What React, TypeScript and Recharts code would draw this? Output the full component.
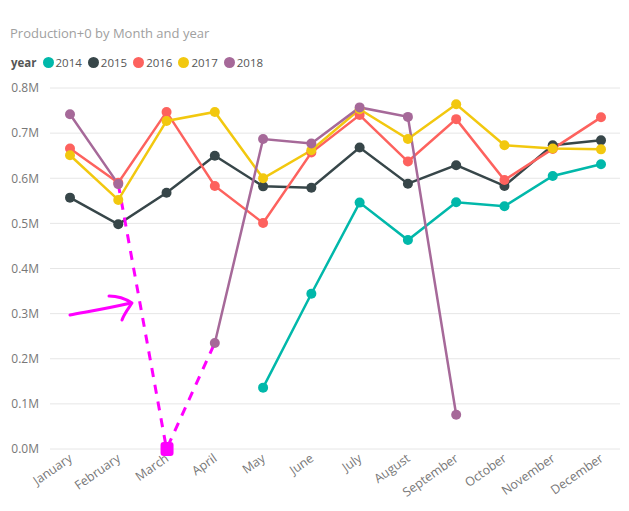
import { LineChart, Line, XAxis, YAxis, CartesianGrid } from 'recharts'

const months = ['January', 'February', 'March', 'April', 'May', 'June', 'July', 'August', 'September', 'October', 'November', 'December']
const years = ['2014', '2015', '2016', '2017', '2018']
const COLORS = ['#01B8AA', '#374649', '#FD625E', '#F2C80F', '#A66999']

const y2014 = [null, null, null, null, 136000, 344000, 546000, 463000, 547000, 538000, 605000, 631000]
const y2015 = [557000, 498000, 568000, 650000, 582000, 579000, 668000, 588000, 629000, 583000, 673000, 684000]
const y2016 = [666000, 590000, 747000, 583000, 501000, 657000, 740000, 637000, 731000, 596000, 665000, 735000]
const y2017 = [651000, 552000, 727000, 747000, 600000, 662000, 753000, 687000, 764000, 673000, 666000, 664000]
const y2018 = [742000, 587000, null, 235000, 687000, 677000, 757000, 736000, 76000, null, null, null]
// hand-drawn note on the picture: the missing March value of 2018 taken as zero
const note2018 = [null, 587000, 0, 235000, null, null, null, null, null, null, null, null]

const yTicks = [0, 100000, 200000, 300000, 400000, 500000, 600000, 700000, 800000]

const series = [y2014, y2015, y2016, y2017, y2018]
const data = months.map((month, i) => {
  const row: Record<string, string | number | null> = { month, note: note2018[i] }
  years.forEach((yr, k) => { row[yr] = series[k][i] })
  return row
})

const FONT = '"Open Sans", "Noto Sans", sans-serif'
const MAGENTA = '#FF00FF'

function MonthTick({ x, y, payload }: any) {
  return (
    <g transform={`translate(${x - 2},${y - 4})`}>
      <text x={0} y={0} dy="0.71em" textAnchor="end" transform="rotate(-35)" fill="#777" fontSize={12.5} fontFamily={FONT}>
        {payload.value}
      </text>
    </g>
  )
}

function NoteDot({ cx, cy, index }: any) {
  if (index !== 2 || cx == null) return <g key={index} />
  return <rect key={index} x={cx - 6} y={cy - 7} width={13} height={14} rx={3} fill={MAGENTA} />
}

export default function App() {
  return (
    <div style={{ position: 'absolute', left: 0, top: 0, width: 629, height: 511, background: '#fff', fontFamily: FONT }}>
      <div style={{ position: 'absolute', left: 10, top: 24, fontSize: 13, color: '#a0a0a0', whiteSpace: 'nowrap' }}>
        Production+0 by Month and year
      </div>
      <div style={{ position: 'absolute', left: 11, top: 55, display: 'flex', alignItems: 'center', fontSize: 11.5, color: '#555', whiteSpace: 'nowrap' }}>
        <span style={{ fontWeight: 700, marginRight: 6 }}>year</span>
        {years.map((yr, k) => (
          <span key={yr} style={{ display: 'flex', alignItems: 'center', marginRight: 6 }}>
            <span style={{ width: 11, height: 11, borderRadius: '50%', background: COLORS[k], marginRight: 2, display: 'inline-block' }} />
            {yr}
          </span>
        ))}
      </div>
      <div style={{ position: 'absolute', left: 0, top: 0 }}>
        <LineChart width={629} height={511} data={data} margin={{ top: 88, right: 9, bottom: 0, left: 0 }}>
          <CartesianGrid vertical={false} stroke="#e6e6e6" />
          <XAxis dataKey="month" interval={0} height={62} padding={{ left: 20, right: 19 }} axisLine={false} tickLine={false} tick={<MonthTick />} />
          <YAxis
            width={50}
            domain={[0, 800000]}
            ticks={yTicks}
            axisLine={false}
            tickLine={false}
            tickMargin={5}
            tick={{ fill: '#777', fontSize: 12, fontFamily: FONT }}
            tickFormatter={(v: number) => `${(v / 1000000).toFixed(1)}M`}
          />
          {years.map((yr, k) => (
            <Line
              key={yr}
              dataKey={yr}
              stroke={COLORS[k]}
              strokeWidth={2.5}
              dot={{ r: 5, fill: COLORS[k], strokeWidth: 0 }}
              connectNulls={false}
              isAnimationActive={false}
            />
          ))}
          <Line dataKey="note" stroke={MAGENTA} strokeWidth={3} strokeDasharray="9 8" dot={<NoteDot />} isAnimationActive={false} />
        </LineChart>
      </div>
      <svg width={629} height={511} style={{ position: 'absolute', left: 0, top: 0, pointerEvents: 'none' }}>
        <path d="M70 315 C 85 312, 100 310, 131 303" fill="none" stroke={MAGENTA} strokeWidth={3} strokeLinecap="round" />
        <path d="M109 296 C 118 296, 126 299, 132 303 C 128 309, 124 314, 122 320" fill="none" stroke={MAGENTA} strokeWidth={3} strokeLinecap="round" strokeLinejoin="round" />
      </svg>
    </div>
  )
}
